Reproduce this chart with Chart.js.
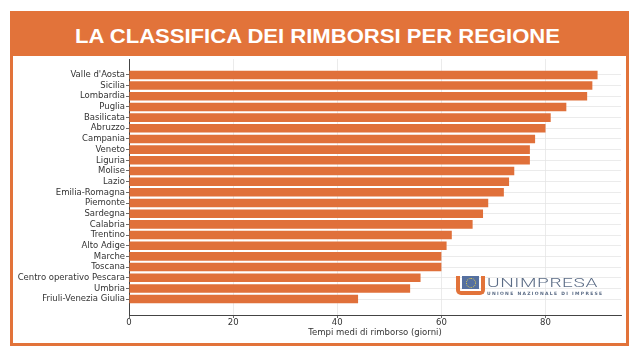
<!DOCTYPE html>
<html>
<head>
<meta charset="utf-8">
<script src="https://cdn.jsdelivr.net/npm/chart.js@4"></script>
<style>
  html,body{margin:0;padding:0;}
  body{width:640px;height:358px;background:#fff;position:relative;overflow:hidden;}
  #frame{position:absolute;left:10px;top:11px;width:619px;height:335px;background:#e2733a;}
  #panel{position:absolute;left:13px;top:56px;width:613px;height:287px;background:#fff;}
  #title{position:absolute;left:0;top:24px;white-space:nowrap;color:#fff;line-height:24px;
    font-family:'Liberation Sans',sans-serif;font-weight:bold;font-size:21px;transform-origin:0 0;}
  #c{position:absolute;left:0;top:0;}
  #logo{position:absolute;left:456px;top:276px;width:160px;height:22px;}
  #u{position:absolute;left:0;top:0;width:21px;height:15px;border:4px solid #e2733a;border-top:none;border-radius:0 0 5px 5px;}
  #sq{position:absolute;left:2px;top:0px;width:17px;height:13px;background:#5570a0;}
  #ring{position:absolute;left:4px;top:2px;width:8px;height:8px;border:1px dotted #e8d24a;border-radius:50%;}
  #brand{position:absolute;left:31px;top:1px;font-family:Roboto,sans-serif;font-weight:300;font-size:12.5px;letter-spacing:0.4px;color:#5b6c86;line-height:12px;transform-origin:0 0;white-space:nowrap;}
  #sub{position:absolute;left:31px;top:15px;font-family:'DejaVu Sans',sans-serif;font-weight:bold;font-size:4.5px;letter-spacing:1.3px;color:#5b6c86;line-height:5px;white-space:nowrap;}
</style>
</head>
<body>
<div id="frame"></div>
<div id="panel"></div>
<div id="title">LA CLASSIFICA DEI RIMBORSI PER REGIONE</div>
<canvas id="c" width="640" height="358"></canvas>
<div id="logo">
  <div id="u"><div id="sq"><div id="ring"></div></div></div>
  <div id="brand">UNIMPRESA</div>
  <div id="sub">UNIONE NAZIONALE DI IMPRESE</div>
</div>
<script>
const regions = ["Valle d'Aosta","Sicilia","Lombardia","Puglia","Basilicata","Abruzzo","Campania","Veneto","Liguria","Molise","Lazio","Emilia-Romagna","Piemonte","Sardegna","Calabria","Trentino","Alto Adige","Marche","Toscana","Centro operativo Pescara","Umbria","Friuli-Venezia Giulia"];
const days = [90,89,88,84,81,80,78,77,77,74,73,72,69,68,66,62,61,60,60,56,54,44];
const xTicks = [0,20,40,60,80];
const xTitle = 'Tempi medi di rimborso (giorni)';

// fit the header text to the reference width
(function(){
  const t = document.getElementById('title');
  const w = t.getBoundingClientRect().width;
  const target = 485;
  t.style.left = (317.5 - target/2) + 'px';
  t.style.transform = 'scaleX(' + (target / w) + ')';
  const b = document.getElementById('brand');
  const bw = b.getBoundingClientRect().width;
  b.style.transform = 'scaleX(' + (111 / bw) + ')';
})();

const orange = '#e0703a';
const txt = '#333333';
const axisCol = '#444444';
const gridCol = '#e6e6e6';
const font = {family:"'DejaVu Sans', sans-serif", size:8.5};

new Chart(document.getElementById('c'), {
  type:'bar',
  data:{
    datasets:[{
      data: days.map((v,i)=>({x:v,y:i})),
      backgroundColor: orange,
      borderWidth:0,
      categoryPercentage:1,
      barPercentage:0.8
    }]
  },
  options:{
    indexAxis:'y',
    responsive:false,
    animation:false,
    devicePixelRatio:1,
    layout:{padding:{left:0,top:59,right:19,bottom:0}},
    plugins:{legend:{display:false},tooltip:{enabled:false}},
    scales:{
      x:{
        type:'linear', min:0, max:94.5, offset:false,
        afterBuildTicks:s=>{s.ticks = xTicks.map(v=>({value:v}));},
        afterFit:s=>{s.height = 43;},
        grid:{color:gridCol, lineWidth:0.8, tickLength:3, tickColor:axisCol, offset:false},
        border:{color:axisCol, width:1},
        ticks:{font, color:txt, padding:0, maxRotation:0},
        title:{display:true, text:xTitle, font, color:txt, padding:{top:0,bottom:20}}
      },
      y:{
        type:'linear', reverse:true, min:-1.49, max:22.49, offset:false,
        afterBuildTicks:s=>{s.ticks = regions.map((_,i)=>({value:i}));},
        afterFit:s=>{s.width = 129;},
        grid:{color:gridCol, lineWidth:0.8, tickLength:3, tickColor:axisCol, offset:false},
        border:{color:axisCol, width:1},
        ticks:{font, color:txt, padding:1, autoSkip:false, callback:v=>regions[v]}
      }
    }
  }
});
</script>
</body>
</html>
